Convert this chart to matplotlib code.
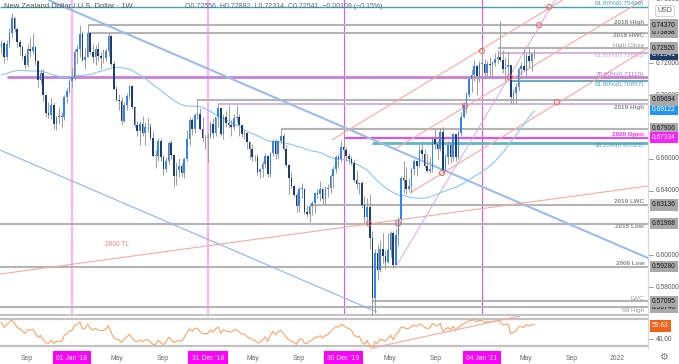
import numpy as np
import pandas as pd
import matplotlib
matplotlib.use("Agg")
import matplotlib.pyplot as plt
import matplotlib.dates as mdates
import matplotlib.transforms as mtransforms

plt.rcParams['font.family'] = ['Liberation Sans', 'DejaVu Sans']

# ---------------- data (NZD/USD weekly) ----------------
first_week = '2017-06-26'

# closes of the 52 weeks before the first visible candle (for the 52w SMA / RSI)
warmup_close = [0.7140, 0.7145, 0.7150, 0.7025, 0.7205, 0.7215, 0.7130, 0.7285, 0.7290, 0.7250,
                0.7320, 0.7265, 0.7325, 0.7280, 0.7125, 0.7125, 0.7135, 0.7140, 0.7170, 0.7300,
                0.7100, 0.7010, 0.7100, 0.7185, 0.7000, 0.6930, 0.6950, 0.7010, 0.7150, 0.7175,
                0.7265, 0.7220, 0.7205, 0.7205, 0.7145, 0.7050, 0.6945, 0.7000, 0.7045, 0.7010,
                0.6985, 0.7020, 0.7025, 0.6890, 0.6875, 0.6915, 0.7040, 0.7085, 0.7135, 0.7220,
                0.7275, 0.7300]

close = [0.7325, 0.7235, 0.7320, 0.7390, 0.7480, 0.7410, 0.7330, 0.7300, 0.7245, 0.7190,
         0.7290, 0.7275, 0.7300, 0.7215, 0.7095, 0.7140, 0.7000, 0.6890, 0.6875, 0.6935,
         0.6820, 0.6860, 0.6870, 0.6860, 0.6985, 0.7025, 0.7090, 0.7110, 0.7270, 0.7290,
         0.7380, 0.7220, 0.7240, 0.7390, 0.7270, 0.7235, 0.7285, 0.7245, 0.7230, 0.7230,
         0.7275, 0.7370, 0.7195, 0.7040, 0.6970, 0.6965, 0.6840, 0.6935, 0.6995, 0.7055,
         0.6925, 0.6810, 0.6775, 0.6820, 0.6760, 0.6800, 0.6800, 0.6730, 0.6620, 0.6620,
         0.6710, 0.6610, 0.6535, 0.6590, 0.6700, 0.6625, 0.6495, 0.6530, 0.6555, 0.6510,
         0.6600, 0.6725, 0.6845, 0.6785, 0.6875, 0.6880, 0.6790, 0.6730, 0.6730, 0.6735,
         0.6820, 0.6765, 0.6860, 0.6920, 0.6755, 0.6865, 0.6825, 0.6810, 0.6800, 0.6855,
         0.6865, 0.6815, 0.6755, 0.6765, 0.6705, 0.6660, 0.6615, 0.6610, 0.6520, 0.6535,
         0.6570, 0.6620, 0.6505, 0.6635, 0.6715, 0.6630, 0.6710, 0.6745, 0.6660, 0.6560,
         0.6480, 0.6430, 0.6375, 0.6305, 0.6415, 0.6415, 0.6270, 0.6255, 0.6305, 0.6325,
         0.6385, 0.6380, 0.6415, 0.6350, 0.6410, 0.6420, 0.6495, 0.6540, 0.6615, 0.6600,
         0.6675, 0.6655, 0.6620, 0.6600, 0.6575, 0.6470, 0.6445, 0.6450, 0.6310, 0.6235,
         0.6300, 0.6105, 0.5730, 0.6015, 0.5905, 0.6040, 0.5995, 0.5955, 0.6030, 0.6140,
         0.5935, 0.6125, 0.6225, 0.6480, 0.6470, 0.6415, 0.6430, 0.6535, 0.6585, 0.6555,
         0.6655, 0.6630, 0.6555, 0.6525, 0.6540, 0.6725, 0.6695, 0.6660, 0.6770, 0.6525,
         0.6610, 0.6690, 0.6610, 0.6755, 0.6615, 0.6765, 0.6860, 0.6935, 0.7000, 0.7100,
         0.7125, 0.7180, 0.7120, 0.7195, 0.7195, 0.7135, 0.7195, 0.7185, 0.7200, 0.7225,
         0.7240, 0.7220, 0.7160, 0.7175, 0.7190, 0.6985, 0.7015, 0.7050, 0.7165, 0.7180,
         0.7155, 0.7245, 0.7215, 0.72556, 0.72541]

high = [0.7345, 0.7335, 0.7345, 0.7420, 0.7515, 0.7485, 0.7420, 0.7350, 0.7310, 0.7265,
        0.7320, 0.7360, 0.7390, 0.7305, 0.7220, 0.7160, 0.7165, 0.7000, 0.6955, 0.6980,
        0.6955, 0.6870, 0.6925, 0.6895, 0.7000, 0.7045, 0.7100, 0.7175, 0.7285, 0.7315,
        0.7435, 0.7400, 0.7295, 0.7437, 0.7395, 0.7320, 0.7310, 0.7330, 0.7270, 0.7285,
        0.7295, 0.7395, 0.7375, 0.7210, 0.7055, 0.7005, 0.6985, 0.6955, 0.7010, 0.7060,
        0.7060, 0.6930, 0.6840, 0.6840, 0.6870, 0.6830, 0.6855, 0.6825, 0.6775, 0.6655,
        0.6730, 0.6730, 0.6625, 0.6615, 0.6715, 0.6720, 0.6625, 0.6580, 0.6605, 0.6575,
        0.6615, 0.6780, 0.6860, 0.6855, 0.6890, 0.6970, 0.6920, 0.6860, 0.6750, 0.6760,
        0.6840, 0.6855, 0.6865, 0.6942, 0.6920, 0.6880, 0.6900, 0.6935, 0.6845, 0.6880,
        0.6940, 0.6880, 0.6815, 0.6780, 0.6770, 0.6710, 0.6695, 0.6625, 0.6630, 0.6545,
        0.6585, 0.6635, 0.6625, 0.6645, 0.6725, 0.6725, 0.6720, 0.6790, 0.6760, 0.6690,
        0.6565, 0.6520, 0.6435, 0.6395, 0.6425, 0.6450, 0.6420, 0.6310, 0.6310, 0.6335,
        0.6395, 0.6410, 0.6465, 0.6420, 0.6430, 0.6445, 0.6505, 0.6555, 0.6625, 0.6630,
        0.6715, 0.6756, 0.6675, 0.6640, 0.6620, 0.6600, 0.6530, 0.6455, 0.6460, 0.6370,
        0.6355, 0.6380, 0.6150, 0.6040, 0.6070, 0.6095, 0.6140, 0.6030, 0.6135, 0.6150,
        0.6150, 0.6160, 0.6240, 0.6495, 0.6585, 0.6550, 0.6480, 0.6545, 0.6600, 0.6595,
        0.6690, 0.6715, 0.6665, 0.6630, 0.6615, 0.6730, 0.6790, 0.6715, 0.6795, 0.6800,
        0.6630, 0.6710, 0.6705, 0.6765, 0.6730, 0.6780, 0.6895, 0.6945, 0.7020, 0.7110,
        0.7165, 0.7220, 0.7190, 0.7210, 0.7315, 0.7225, 0.7215, 0.7240, 0.7210, 0.7260,
        0.7280, 0.7465, 0.7280, 0.7240, 0.7270, 0.7190, 0.7035, 0.7075, 0.7175, 0.7205,
        0.7285, 0.7265, 0.7305, 0.7260, 0.72882]

low = [0.7255, 0.7200, 0.7220, 0.7300, 0.7365, 0.7395, 0.7300, 0.7250, 0.7225, 0.7160,
       0.7175, 0.7240, 0.7255, 0.7190, 0.7050, 0.7070, 0.6960, 0.6865, 0.6855, 0.6850,
       0.6790, 0.6780, 0.6820, 0.6800, 0.6845, 0.6950, 0.7010, 0.7050, 0.7095, 0.7200,
       0.7240, 0.7215, 0.7160, 0.7240, 0.7255, 0.7200, 0.7185, 0.7215, 0.7165, 0.7200,
       0.7215, 0.7245, 0.7180, 0.7030, 0.6960, 0.6905, 0.6815, 0.6830, 0.6905, 0.6975,
       0.6910, 0.6800, 0.6745, 0.6690, 0.6745, 0.6690, 0.6770, 0.6720, 0.6610, 0.6545,
       0.6590, 0.6590, 0.6500, 0.6520, 0.6570, 0.6600, 0.6425, 0.6440, 0.6490, 0.6485,
       0.6480, 0.6590, 0.6690, 0.6750, 0.6760, 0.6850, 0.6780, 0.6705, 0.6660, 0.6580,
       0.6730, 0.6730, 0.6745, 0.6800, 0.6745, 0.6725, 0.6800, 0.6795, 0.6745, 0.6780,
       0.6840, 0.6745, 0.6740, 0.6725, 0.6660, 0.6600, 0.6590, 0.6585, 0.6500, 0.6480,
       0.6490, 0.6545, 0.6490, 0.6490, 0.6620, 0.6600, 0.6600, 0.6700, 0.6655, 0.6550,
       0.6380, 0.6420, 0.6360, 0.6270, 0.6270, 0.6355, 0.6255, 0.6240, 0.6204, 0.6250,
       0.6260, 0.6355, 0.6340, 0.6320, 0.6315, 0.6365, 0.6390, 0.6420, 0.6515, 0.6545,
       0.6580, 0.6640, 0.6590, 0.6570, 0.6560, 0.6455, 0.6410, 0.6380, 0.6295, 0.6205,
       0.6190, 0.6040, 0.5469, 0.5640, 0.5845, 0.5895, 0.5950, 0.5910, 0.5950, 0.5985,
       0.5920, 0.5940, 0.6055, 0.6200, 0.6385, 0.6380, 0.6400, 0.6390, 0.6500, 0.6495,
       0.6550, 0.6600, 0.6545, 0.6520, 0.6510, 0.6520, 0.6665, 0.6600, 0.6650, 0.6510,
       0.6525, 0.6570, 0.6575, 0.6590, 0.6590, 0.6600, 0.6745, 0.6855, 0.6885, 0.6990,
       0.7020, 0.7085, 0.7000, 0.7080, 0.7130, 0.7100, 0.7105, 0.7110, 0.7100, 0.7180,
       0.7200, 0.7210, 0.7140, 0.7090, 0.7125, 0.6945, 0.6945, 0.6945, 0.7025, 0.7125,
       0.7150, 0.7115, 0.7170, 0.7150, 0.72314]

# horizontal levels
gray_levels = [0.74370, 0.73898, 0.72920, 0.69694, 0.67906, 0.63136, 0.61968, 0.59280, 0.57095, 0.56740]
gray_starts = ['2018-02-12', '2018-02-12', '2021-02-15', '2018-12-03', '2019-07-15',
               '2019-09-30', None, None, '2020-03-16', None]
fib_levels = [0.75499, 0.72653, 0.71110, 0.70857, 0.67023]
fib_starts = [None, '2021-02-15', '2017-07-10', '2021-03-22', '2020-03-16']
high_2019 = 0.6942
high_2019_start = '2019-01-28'
open_2020 = 0.67334
open_2020_start = '2019-12-30'

# level labels (text, price, side)
label_texts = ['61.80%(0.75499)', '2018 High', '2018 HWC', 'High Close', '61.80%(0.72653)',
               '78.60%(0.71110)', '61.80%(0.70857)', '2019 High', '2020 Open', '38.20%(0.67023)',
               '2019 LWC', '2015 Low', '2006 Low', 'LWC', "'99 High"]
label_prices = [0.75499, 0.74370, 0.73898, 0.72920, 0.72653, 0.71110, 0.70857, 0.6942,
                0.67334, 0.67023, 0.63136, 0.61968, 0.59280, 0.57095, 0.56740]
label_above = [True, True, False, True, False, True, False, False, True, False,
               True, False, True, True, False]
label_kind = ['teal', 'gray', 'gray', 'grayl', 'lav', 'purple', 'teal', 'gray', 'magenta', 'teal',
              'gray', 'gray', 'gray', 'grayl', 'grayl']

# trendlines (start date, start price, end date, end price)
blue_tl = ('2017-10-29', 0.7594, '2022-03-25', 0.5981)
blue_low_tl = ('2017-06-22', 0.6656, '2020-03-28', 0.5644)
tl_2000 = ('2017-06-22', 0.5881, '2022-03-25', 0.6431)
salmon_tls = [('2019-11-29', 0.6719, '2021-08-09', 0.7594),
              ('2020-05-16', 0.6663, '2022-03-30', 0.7619),
              ('2020-06-25', 0.6388, '2022-03-30', 0.7300)]
lav_tl = ('2020-05-21', 0.5938, '2021-07-19', 0.7594)
rsi_tl = ('2020-03-15', 27.0, '2021-04-16', 74.5)

circle_dates = ['2021-01-04', '2021-06-06', '2021-07-03', '2021-03-20', '2021-07-24',
                '2020-11-19', '2020-03-07', '2020-05-24', '2020-09-19']
circle_prices = [0.7275, 0.7437, 0.75499, 0.7111, 0.6955, 0.6931, 0.61968, 0.61968, 0.6513]

vline_soft = ['2018-01-01', '2018-12-31']
vline_hard = ['2019-12-30', '2021-01-04']

# axis labels
plain_ticks = [0.76, 0.72, 0.70, 0.66, 0.64, 0.60, 0.58]
box_prices = [0.56740, 0.57095, 0.59280, 0.61968, 0.63136, 0.67906, 0.67334,
              0.69122, 0.69694, 0.72541, 0.72920, 0.73898, 0.74370]
box_kind = ['gray', 'gray', 'gray', 'gray', 'gray', 'gray', 'magenta',
            'blue', 'gray', 'navy', 'gray', 'gray', 'gray']
rsi_last_label = 59.63
rsi_tick = 40.0
date_ticks = ['2017-09-01', '2018-01-01', '2018-05-01', '2018-09-01', '2018-12-31', '2019-05-01',
              '2019-09-01', '2019-12-30', '2020-05-01', '2020-09-01', '2021-01-04', '2021-05-01',
              '2021-09-01', '2022-01-01']
date_texts = ['Sep', "01 Jan '18", 'May', 'Sep', "31 Dec '18", 'May', 'Sep', "30 Dec '19",
              'May', 'Sep', "04 Jan '21", 'May', 'Sep', '2022']

# ---------------- derived series ----------------
dates = pd.date_range(first_week, periods=len(close), freq='7D')
all_close = pd.Series(warmup_close + close)
opens = np.array(all_close.shift(1).iloc[len(warmup_close):])
closes = np.array(close)
sma52 = all_close.rolling(52).mean().iloc[len(warmup_close):].values
delta = all_close.diff()
gain = delta.clip(lower=0).ewm(alpha=1 / 14, adjust=False).mean()
loss = (-delta.clip(upper=0)).ewm(alpha=1 / 14, adjust=False).mean()
rsi = (100 - 100 / (1 + gain / loss)).iloc[len(warmup_close):].values

# ---------------- figure ----------------
W, H = 679, 364
fig = plt.figure(figsize=(W / 100, H / 100), dpi=100)
fig.patch.set_facecolor('white')
ax = fig.add_axes([0, (H - 316) / H, 648 / W, 316 / H])
rx = fig.add_axes([0, (H - 349) / H, 648 / W, 33 / H], sharex=ax)
for a in (ax, rx):
    a.set_axis_off()

x0 = mdates.date2num(pd.Timestamp('2017-06-22'))
x1 = mdates.date2num(pd.Timestamp('2022-03-25'))
ax.set_xlim(x0, x1)
ax.set_ylim(0.561875, 0.759375)
rx.set_ylim(25.56, 74.44)


def d(s):
    return mdates.date2num(pd.Timestamp(s))


GRAY = '#b4b4b4'
TEAL = '#4f9db0'
LAV = '#cdb0dd'
PURPLE = '#c681d2'
MAGENTA = '#f23ff2'
SALMON = '#f6aaa4'

# vertical date markers
for s in vline_soft:
    ax.axvline(d(s), color='#ffaaf5', lw=1.3, zorder=1)
for s in vline_hard:
    ax.axvline(d(s), color='#e55be5', lw=0.8, zorder=1)

# horizontal levels
for p, s in zip(gray_levels, gray_starts):
    ax.hlines(p, d(s) if s else x0, x1, color=GRAY, lw=1.5, zorder=2)
fib_width = [1.0, 1.3, 2.0, 1.2, 2.0]
fib_color = [TEAL, LAV, PURPLE, TEAL, '#62b3c4']
for p, s, w, c in zip(fib_levels, fib_starts, fib_width, fib_color):
    ax.hlines(p, d(s) if s else x0, x1, color=c, lw=w, zorder=2)
ax.hlines(high_2019, d(high_2019_start), x1, color=LAV, lw=1.3, zorder=2)
ax.hlines(open_2020, d(open_2020_start), x1, color=MAGENTA, lw=1.4, zorder=2)
ax.hlines(0.5625, x0, x1, color='#c4c4c4', lw=1.6, zorder=2)

# trendlines
def tline(a, t, **kw):
    a.plot([d(t[0]), d(t[2])], [t[1], t[3]], solid_capstyle='butt', **kw)


tline(ax, blue_tl, color='#9dbbe9', lw=1.5, zorder=2)
tline(ax, blue_low_tl, color='#8fb3ec', lw=0.8, zorder=2)
tline(ax, tl_2000, color=SALMON, lw=0.8, zorder=2)
for t in salmon_tls:
    tline(ax, t, color=SALMON, lw=0.8, zorder=2)
tline(ax, lav_tl, color='#d6a8e8', lw=0.7, zorder=2)
ax.text(d('2018-05-02'), 0.6063, '2000 TL', color='#f08080', fontsize=4.8,
        ha='center', va='center', zorder=3)

# moving average
ax.plot(dates, sma52, color='#8cc6f2', lw=0.8, zorder=3)

# candles
up = closes >= opens
colors = np.where(up, '#3483f3', '#1d3c70')
ax.vlines(dates, low, high, color='#9c9c9c', lw=0.7, zorder=4)
body_low = np.minimum(opens, closes)
body_h = np.maximum(np.abs(closes - opens), 0.0003)
ax.bar(dates, body_h, bottom=body_low, width=4.3, color=colors, linewidth=0, zorder=5)

# circles
ax.scatter([d(s) for s in circle_dates], circle_prices, s=14, facecolors='none',
           edgecolors='#f07070', linewidths=0.8, zorder=6)

# level labels inside the plot
label_color = {'teal': TEAL, 'gray': '#8a8a8a', 'grayl': '#999999', 'lav': '#c9a3dc',
               'purple': '#b46ec4', 'magenta': '#ff2bff'}
blend = mtransforms.blended_transform_factory(ax.transAxes, ax.transData)
for t, p, above, k in zip(label_texts, label_prices, label_above, label_kind):
    bold = k in ('gray', 'magenta')
    ax.annotate(t, xy=(0.994, p), xycoords=blend, xytext=(0, 0.4 if above else -0.6),
                textcoords='offset points', ha='right', va='bottom' if above else 'top',
                fontsize=4.6, color=label_color[k], fontweight='bold' if bold else 'normal',
                zorder=7)

# price axis
ax.plot([1.0, 1.0], [0, 1], transform=ax.transAxes, color='#d8d8d8', lw=0.8, clip_on=False)
for p in plain_ticks:
    ax.text(1.012, p, '%.5f' % p, transform=blend, fontsize=4.8, color='#555555',
            ha='left', va='center', clip_on=False, zorder=1)
    ax.plot([1.001, 1.008], [p, p], transform=blend, color='#777777', lw=0.5, clip_on=False)
box_style = {'gray': ('#a9a9a9', '#111111'), 'navy': ('#1e3d6e', 'white'),
             'blue': ('#2196f3', 'white'), 'magenta': ('#ff22ff', 'white')}
for p, k in zip(box_prices, box_kind):
    fc, tc = box_style[k]
    ax.text(1.006, p, '%.5f' % p, transform=blend, fontsize=4.8, color=tc, ha='left',
            va='center', clip_on=False, zorder=8,
            bbox=dict(boxstyle='square,pad=0.35', fc=fc, ec='none'))

# RSI panel
rx.axhline(70, color='#c2c2c2', lw=1.6)
rx.axhline(30, color='#c2c2c2', lw=1.6)
rx.plot(dates, rsi, color='#f5a66a', lw=0.8)
tline(rx, rsi_tl, color=SALMON, lw=0.8)
rx.plot([1.0, 1.0], [0, 1], transform=rx.transAxes, color='#d8d8d8', lw=0.8, clip_on=False)
rblend = mtransforms.blended_transform_factory(rx.transAxes, rx.transData)
rx.text(1.006, rsi_last_label, '%.2f' % rsi_last_label, transform=rblend, fontsize=4.8,
        color='white', ha='left', va='center', clip_on=False,
        bbox=dict(boxstyle='square,pad=0.35', fc='#f0621a', ec='none'))
rx.text(1.012, rsi_tick, '%.2f' % rsi_tick, transform=rblend, fontsize=4.8, color='#555555',
        ha='left', va='center', clip_on=False)
rx.plot([1.001, 1.008], [rsi_tick, rsi_tick], transform=rblend, color='#777777', lw=0.5,
        clip_on=False)

# date axis
dblend = mtransforms.blended_transform_factory(ax.transData, fig.transFigure)
for s, t in zip(date_ticks, date_texts):
    boxed = "'" in t
    ax.text(d(s), 6 / H, t, transform=dblend, fontsize=4.9, ha='center', va='center',
            color='white' if boxed else '#666666', clip_on=False,
            bbox=dict(boxstyle='square,pad=0.55', fc='#ff00ff', ec='none') if boxed else None)

# header texts
fig.text(4 / W, 1 - 7 / H, 'New Zealand Dollar / U.S. Dollar \u00b7 1W', fontsize=5.5,
         color='#555555', ha='left', va='center')
fig.text(185 / W, 1 - 7 / H,
         'O0.72556  H0.72882  L0.72314  C0.72541  \u22120.00109 (\u22120.15%)',
         fontsize=5.0, color='#5a6a80', ha='left', va='center')
fig.text(665 / W, 1 - 11 / H, 'USD', fontsize=5, color='#555555', ha='center', va='center',
         bbox=dict(boxstyle='round,pad=0.3', fc='white', ec='#cccccc', lw=0.6))
fig.text(663 / W, 7 / H, '\u2699', fontsize=7, color='#777777', ha='center', va='center')

fig.savefig('out.png', dpi=100)
